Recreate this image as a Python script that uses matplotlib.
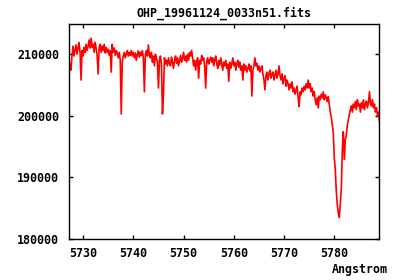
import numpy as np
import matplotlib
matplotlib.use("Agg")
import matplotlib.pyplot as plt

title = "OHP_19961124_0033n51.fits"
xlabel = "Angstrom"
wl_start = 5727.2
wl_step = 0.2
flux = [
    209000, 208100, 207400, 209800, 211300, 209700, 210600, 211500, 210000, 211000,
    211900, 210300, 205800, 210600, 209700, 211100, 210300, 211600, 210600, 211300,
    212300, 211000, 212600, 211100, 211600, 210300, 211900, 211000, 209800, 206800,
    211000, 211600, 210300, 211300, 210600, 211600, 210200, 211100, 210300, 210800,
    209800, 210600, 207100, 211600, 210300, 211000, 209800, 210600, 210200, 209400,
    210300, 209000, 200300, 208700, 209700, 210300, 209400, 210000, 210600, 209700,
    210300, 209800, 210600, 209700, 210300, 209400, 210200, 209000, 210000, 210500,
    209500, 210300, 209800, 210600, 209400, 203900, 210000, 210600, 209700, 211500,
    209800, 209400, 210300, 208700, 209700, 208100, 210000, 209400, 208700, 204500,
    209000, 209700, 208400, 200300, 203400, 209400, 208400, 209000, 208100, 209400,
    208500, 208100, 209500, 208700, 207700, 209000, 209700, 208500, 209400, 208100,
    209000, 209800, 208700, 209400, 210300, 209000, 209700, 208700, 210000, 209000,
    210300, 209700, 210600, 209400, 208100, 209000, 207400, 208700, 209400, 206100,
    209000, 208400, 209800, 209000, 209400, 208100, 204500, 208700, 209400, 208400,
    209000, 209500, 208700, 209400, 208100, 209000, 209700, 208500, 207700, 209000,
    208200, 209400, 208400, 207400, 208700, 208100, 209000, 207700, 208400, 205600,
    208700, 207700, 208400, 209400, 208100, 208700, 207400, 208400, 209000, 207900,
    208700, 207400, 208100, 205800, 208400, 207400, 208100, 207100, 207700, 208400,
    207300, 208100, 203200, 207400, 208100, 209400, 208100, 208500, 207400, 208100,
    207100, 207700, 208100, 206800, 205800, 204200, 206500, 207100, 205800, 206800,
    207400, 206100, 206800, 207100, 205800, 206600, 207400, 206100, 206800, 208100,
    206500, 205800, 206800, 205200, 206100, 206500, 204800, 205800, 205200, 204200,
    205200, 204500, 205500, 203900, 204500, 203500, 204200, 204800, 202900, 201500,
    203900, 203400, 204500, 203900, 204800, 204200, 205200, 204500, 205800, 204500,
    205200, 203900, 204500, 203200, 203900, 202600, 201800, 202900, 201300, 203200,
    202600, 203500, 202900, 203900, 202600, 203400, 202900, 202300, 203100, 201900,
    200600, 199800, 198500, 197300, 193200, 191300, 187700, 185600, 184200, 183500,
    185800, 188100, 194500, 197400, 192900, 196100, 196900, 198500, 199400, 200200,
    201000, 201600, 200600, 201900, 201300, 202300, 201000, 202600, 201600, 201900,
    200600, 202100, 201300, 202600, 201000, 201900, 202400, 201300, 202100, 203900,
    201900, 201600, 202600, 201300, 201900, 200600, 201300, 200000, 200600, 199000,
    198400,
]
xticks = [5730, 5740, 5750, 5760, 5770, 5780]
yticks = [180000, 190000, 200000, 210000]

wl = wl_start + wl_step * np.arange(len(flux))

font = dict(family="DejaVu Sans Mono", weight="bold", size=8.4)

fig = plt.figure(figsize=(4.0, 2.8), dpi=100)
ax = fig.add_axes([0.1725, 0.1464, 0.775, 0.768])
ax.plot(wl, flux, color="#ff0000", linewidth=1.2)
ax.set_xlim(5727.2, 5788.9)
ax.set_ylim(180000, 214900)
ax.set_xticks(xticks)
ax.set_yticks(yticks)
ax.set_xticklabels([str(t) for t in xticks], fontdict=font)
ax.set_yticklabels([str(t) for t in yticks], fontdict=font)
ax.tick_params(direction="in", length=3, width=1, top=True, right=True,
               colors="black", pad=6)
ax.tick_params(axis="y", pad=7)
for s in ax.spines.values():
    s.set_linewidth(1.0)
    s.set_color("black")
ax.set_title(title, fontdict=font, pad=5)
fig.text(0.97, 0.036, xlabel, ha="right", va="center", **font)
fig.savefig("out.png", dpi=100)
